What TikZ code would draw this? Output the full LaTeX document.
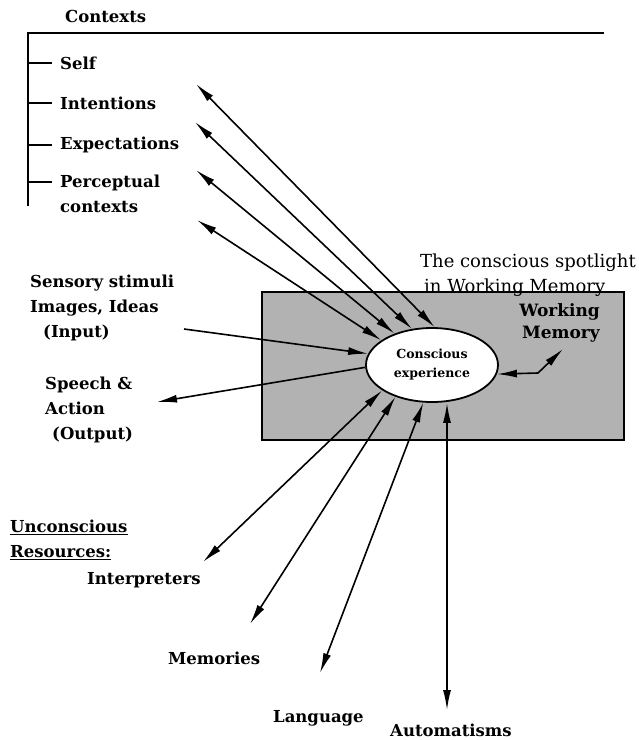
\documentclass[tikz,border=0pt]{standalone}
\usepackage{fontspec}
\setmainfont{DejaVu Serif}
\usetikzlibrary{arrows.meta,shapes.geometric}

\tikzset{
  lbl/.style={anchor=west, inner sep=0pt, align=left, font=\bfseries\fontsize{16.5}{25}\selectfont},
  twoway/.style={{Latex[length=20pt,width=8pt]}-{Latex[length=20pt,width=8pt]}, line width=1.6pt},
  oneway/.style={-{Latex[length=20pt,width=8pt]}, line width=1.6pt},
}

\begin{document}
\begin{tikzpicture}[x=1pt, y=-1pt]

    \useasboundingbox (0,0) rectangle (639,740);

    %% Contexts

    % Bracket
    \draw[line width=2.2pt] (27,33) -- (604,33);
    \draw[line width=2.2pt] (28,33) -- (28,206);
    \foreach \y in {63,103,145,182}
        \draw[line width=2.2pt] (28,\y) -- (52,\y);
    \node[lbl] (ctx) at (65,16) {Contexts};
    \node[lbl] (self) at (60,63) {Self};
    \node[lbl] (intent) at (60,103) {Intentions};
    \node[lbl] (expect) at (60,145) {Expectations};
    \node[lbl] (percept) at (60,194) {Perceptual\\contexts};

    %% Working Memory

    % Box
    \draw[line width=1.8pt, fill=black!30] (262,292) rectangle (624,440);
    \node[lbl, anchor=east, align=right, font=\bfseries\fontsize{17}{22}\selectfont] (wm) at (600,323) {Working\\Memory};
    \node[lbl, font=\fontsize{18}{25}\selectfont] (spot) at (420,275) {The conscious spotlight\\\hspace*{4pt}in Working Memory};

    % Spotlight
    \node[ellipse, draw, line width=1.8pt, fill=white, minimum width=132pt, minimum height=74pt,
          inner sep=0pt, align=center, font=\bfseries\fontsize{12.5}{19}\selectfont] (ce) at (432,365) {Conscious\\experience};

    \coordinate (wmtip) at (563,349);
    \coordinate (wmbend) at (538,373);
    \draw[twoway] (ce.-8) -- (wmbend) -- (wmtip);

    %% Input and output

    \node[lbl] (input) at (30,308) {Sensory stimuli\\Images, Ideas\\\hspace*{13pt}(Input)};
    \node[lbl] (output) at (45,410) {Speech \&\\Action\\\hspace*{7pt}(Output)};
    \coordinate (inend) at (184,329);
    \coordinate (outend) at (157,402);
    \draw[oneway] (inend) -- (ce.170);
    \draw[oneway] (ce.182) -- (outend);

    % Context arrows
    \coordinate (c1) at (196,84);
    \coordinate (c2) at (195,122);
    \coordinate (c3) at (196,170);
    \coordinate (c4) at (197,220);
    \draw[twoway] (c1) -- (ce.86);
    \draw[twoway] (c2) -- (ce.119);
    \draw[twoway] (c3) -- (ce.140);
    \draw[twoway] (c4) -- (ce.154);

    %% Unconscious resources

    \node[lbl] (uncon) at (10,540) {\underline{Unconscious}\\\underline{Resources:}};
    \node[lbl] (interp) at (87,580) {Interpreters};
    \node[lbl] (mem) at (168,658) {Memories};
    \node[lbl] (lang) at (273,718) {Language};
    \node[lbl] (auto) at (390,730) {Automatisms};

    \coordinate (r1) at (203,562);
    \coordinate (r2) at (250,624);
    \coordinate (r3) at (320,673);
    \coordinate (r4) at (447,710);
    \draw[twoway] (ce.207) -- (r1);
    \draw[twoway] (ce.221) -- (r2);
    \draw[twoway] (ce.257) -- (r3);
    \draw[twoway] (r4 |- ce.south) -- (r4);

\end{tikzpicture}
\end{document}
